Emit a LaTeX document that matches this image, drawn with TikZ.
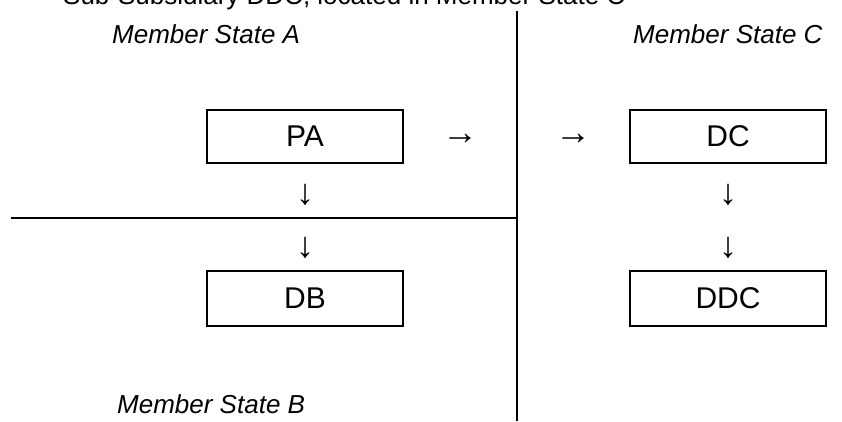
\documentclass[tikz,border=0pt]{standalone}
\usepackage{fontspec}
\setmainfont{Liberation Sans}
\begin{document}
\begin{tikzpicture}[x=1pt,y=1pt,
  entity/.style={draw,line width=2pt,minimum width=196pt,inner sep=0pt,font=\fontsize{30}{36}\selectfont},
  statelabel/.style={anchor=base west,inner sep=0pt,font=\fontsize{26}{31}\selectfont\itshape},
  glyph/.style={inner sep=0pt,font=\fontsize{36}{42}\selectfont},
  border/.style={line width=2pt}]
\useasboundingbox (0,0) rectangle (842,-421);
% caption running off the top edge
\node[anchor=base west,inner sep=0pt,font=\fontsize{26}{31}\selectfont] (title) at (63,-4) {Sub-Subsidiary DDC, located in Member State C};
% state labels
\node[statelabel] (msA) at (112,-43) {Member State A};
\node[statelabel] (msC) at (633,-43) {Member State C};
\node[statelabel] (msB) at (117,-413) {Member State B};
% borders between the states
\coordinate (vtop) at (517,-11);
\coordinate (vbot) at (517,-421);
\coordinate (hleft) at (11,-217.5);
\coordinate (hright) at (517,-217.5);
\draw[border] (vtop) -- (vbot);
\draw[border] (hleft) -- (hright);
% companies
\node[entity,minimum height=53pt] (PA) at (305,-136.5) {PA};
\node[entity,minimum height=53pt] (DC) at (728,-136.5) {DC};
\node[entity,minimum height=55pt] (DB) at (305,-298.5) {DB};
\node[entity,minimum height=55pt] (DDC) at (728,-298.5) {DDC};
% arrow characters
\node[glyph] (r1) at (460,-139) {→};
\node[glyph] (r2) at (573,-139) {→};
\node[glyph] (d1) at (305,-194.5) {↓};
\node[glyph] (d2) at (305,-247.5) {↓};
\node[glyph] (d3) at (728,-194.5) {↓};
\node[glyph] (d4) at (728,-247.5) {↓};
\end{tikzpicture}
\end{document}
